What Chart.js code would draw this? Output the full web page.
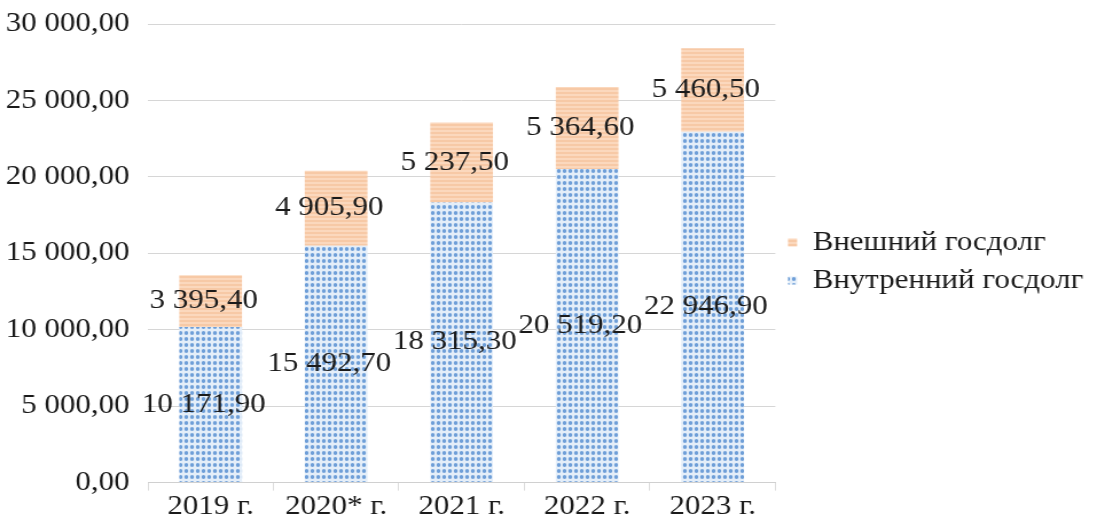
<!DOCTYPE html>
<html>
<head>
<meta charset="utf-8">
<script src="https://cdn.jsdelivr.net/npm/chart.js@4.4.0/dist/chart.umd.min.js"></script>
<style>
  html, body { margin: 0; padding: 0; background: #fff; overflow: hidden; }
  /* the source picture is a little stretched sideways, so the chart is too */
  #wrap {
    width: 957px; height: 525px;
    transform: scale(1.1463, 1);
    transform-origin: 0 0;
  }
</style>
</head>
<body>
<div id="wrap"><canvas id="debt"></canvas></div>
<script>
// data
var years = ["2019 г.", "2020* г.", "2021 г.", "2022 г.", "2023 г."];
var internalDebt = [10171.9, 15492.7, 18315.3, 20519.2, 22946.9];
var externalDebt = [3395.4, 4905.9, 5237.5, 5364.6, 5460.5];

var SERIF = "'Liberation Serif', 'Times New Roman', serif";

function fmt(v) {
  var parts = v.toFixed(2).split(".");
  var int = parts[0].replace(/\B(?=(\d{3})+(?!\d))/g, " ");
  return int + "," + parts[1];
}

// dotted blue fill
function dotPattern() {
  var c = document.createElement("canvas");
  c.width = 5; c.height = 6;
  var g = c.getContext("2d");
  g.fillStyle = "#e4eef9";
  g.fillRect(0, 0, 5, 6);
  g.fillStyle = "#6f9fd8";
  g.beginPath();
  g.ellipse(2.5, 3, 1.7, 1.9, 0, 0, Math.PI * 2);
  g.fill();
  return g.createPattern(c, "repeat");
}

// striped orange fill
function stripePattern() {
  var c = document.createElement("canvas");
  c.width = 4; c.height = 4;
  var g = c.getContext("2d");
  g.fillStyle = "#fbd8bd";
  g.fillRect(0, 0, 4, 4);
  g.fillStyle = "#f7c9a6";
  g.fillRect(0, 0, 4, 2);
  return g.createPattern(c, "repeat");
}

// labels centred in each segment
var segmentLabels = {
  id: "segmentLabels",
  afterDatasetsDraw: function(chart) {
    var ctx = chart.ctx;
    ctx.save();
    ctx.font = "27px " + SERIF;
    ctx.fillStyle = "#1a1a1a";
    ctx.textAlign = "center";
    ctx.textBaseline = "middle";
    chart.data.datasets.forEach(function(ds, i) {
      chart.getDatasetMeta(i).data.forEach(function(bar, j) {
        var mid = (bar.y + bar.base) / 2;
        ctx.fillText(fmt(ds.data[j]), bar.x - 6, mid);
      });
    });
    ctx.restore();
  }
};

Chart.defaults.font.family = SERIF;
Chart.defaults.color = "#1a1a1a";

var canvas = document.getElementById("debt");
new Chart(canvas, {
  type: "bar",
  data: {
    labels: years,
    datasets: [
      {
        label: "Внутренний госдолг",
        data: internalDebt,
        backgroundColor: dotPattern(),
        borderWidth: 0
      },
      {
        label: "Внешний госдолг",
        data: externalDebt,
        backgroundColor: stripePattern(),
        borderWidth: 0
      }
    ]
  },
  options: {
    responsive: true,
    maintainAspectRatio: false,
    animation: false,
    layout: { padding: { left: 0, right: 2, top: 0, bottom: 2 } },
    datasets: { bar: { categoryPercentage: 1, barPercentage: 0.5 } },
    scales: {
      x: {
        stacked: true,
        grid: { drawOnChartArea: false, color: "#dcdcdc", tickLength: 8 },
        border: { color: "#d0d0d0" },
        ticks: { font: { size: 27, family: SERIF }, padding: 0 }
      },
      y: {
        stacked: true,
        min: 0,
        max: 30000,
        border: { display: false },
        grid: { color: "#d6d6d6", drawTicks: false },
        afterFit: function(scale) {
          scale.width = 129;
          scale.paddingTop = 24;
        },
        ticks: {
          stepSize: 5000,
          font: { size: 27, family: SERIF },
          padding: 16,
          callback: function(v) { return fmt(v); }
        }
      }
    },
    plugins: {
      legend: {
        position: "right",
        reverse: true,
        maxWidth: 400,
        labels: {
          boxWidth: 8,
          boxHeight: 8,
          padding: 11,
          font: { size: 27, family: SERIF }
        }
      },
      tooltip: { enabled: false }
    }
  },
  plugins: [segmentLabels]
});
</script>
</body>
</html>
